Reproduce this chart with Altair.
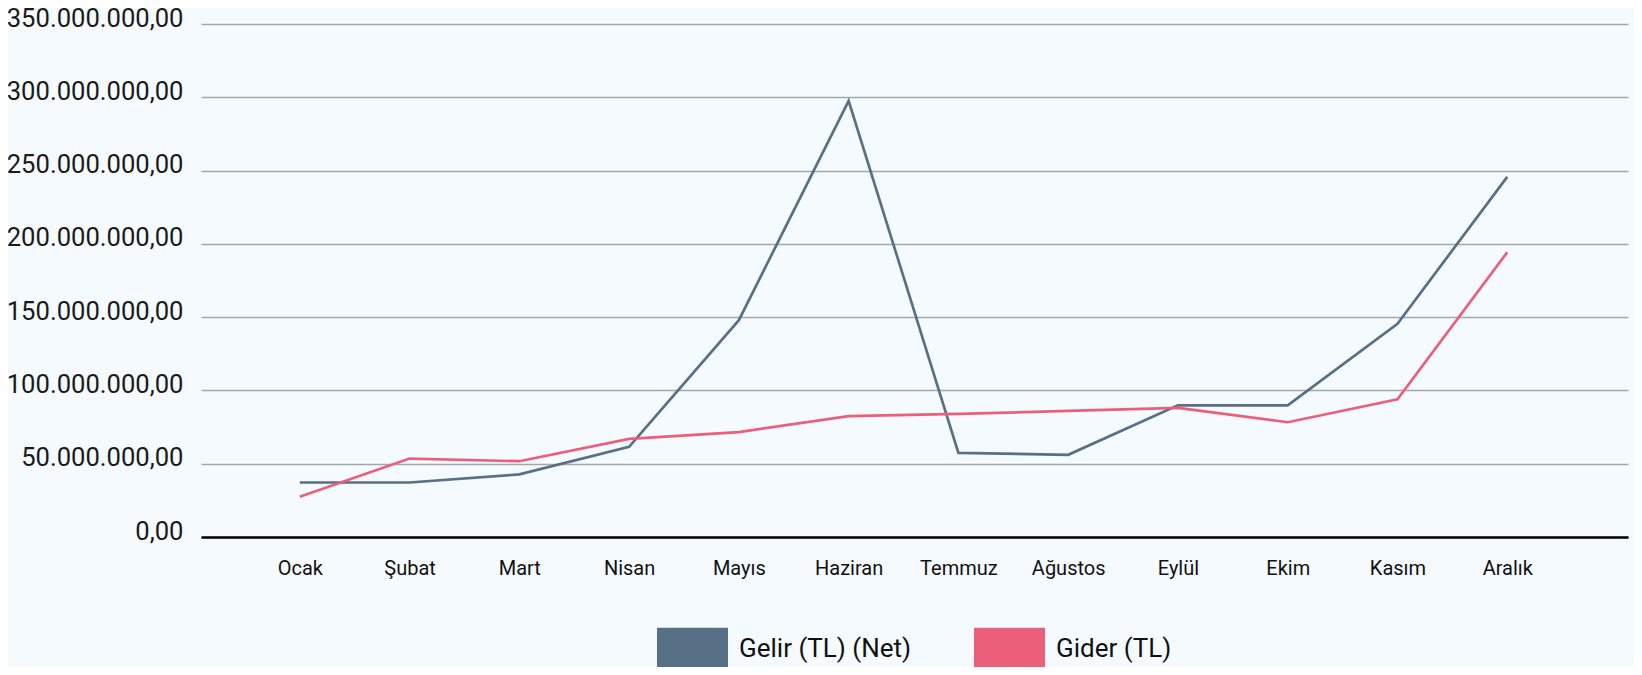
import altair as alt
import pandas as pd

months = ["Ocak", "Şubat", "Mart", "Nisan", "Mayıs", "Haziran", "Temmuz",
          "Ağustos", "Eylül", "Ekim", "Kasım", "Aralık"]
gelir_m = [37.2, 37.2, 42.7, 61.5, 147.9, 297.6, 57.4, 56.1, 89.8, 89.8, 145.5, 245.7]
gider_m = [27.5, 53.5, 51.7, 66.9, 71.6, 82.5, 84.0, 86.0, 88.1, 78.3, 93.9, 194.3]
series_names = ["Gelir (TL) (Net)", "Gider (TL)"]
series_colors = ["#587086", "#EC5F7A"]
y_ticks = [0, 50e6, 100e6, 150e6, 200e6, 250e6, 300e6, 350e6]

rows = []
for i, m in enumerate(months):
    rows.append({"Ay": m, "Seri": series_names[0], "Deger": gelir_m[i] * 1e6})
    rows.append({"Ay": m, "Seri": series_names[1], "Deger": gider_m[i] * 1e6})
df = pd.DataFrame(rows)

# legend swatch: stacked horizontal strokes forming a filled rectangle
swatch_path = "".join(f"M-1,{-0.507 + k * 0.1449:.4f}H1" for k in range(8))

chart = alt.Chart(df).mark_line(strokeWidth=2.7).encode(
    x=alt.X("Ay:N", sort=months,
            scale=alt.Scale(type="point", padding=1.034, align=0.45),
            axis=alt.Axis(title=None, ticks=False, tickSize=0, labelAngle=0,
                          domainColor="#000000", domainWidth=2.6,
                          labelFont="Roboto", labelFontSize=20, labelColor="#111111",
                          labelPadding=21, grid=False)),
    y=alt.Y("Deger:Q",
            scale=alt.Scale(domain=[0, 350e6], nice=False, zero=True),
            axis=alt.Axis(title=None, values=y_ticks, format=",.2f", ticks=False,
                          domain=False, labelFont="Roboto", labelFontSize=25.6,
                          labelColor="#1a1a1a", labelPadding=18,
                          labelBaseline="alphabetic", labelOffset=2,
                          gridColor="#A3A7AB", gridWidth=1.4)),
    color=alt.Color("Seri:N",
                    scale=alt.Scale(domain=series_names, range=series_colors),
                    legend=alt.Legend(title=None, orient="none", legendX=453, legendY=586,
                                      direction="horizontal",
                                      symbolType=swatch_path,
                                      symbolSize=5041, symbolStrokeWidth=6,
                                      labelFont="Roboto", labelFontSize=26,
                                      labelLimit=400,
                                      labelColor="#111111", labelOffset=8,
                                      columnPadding=50, padding=0)),
).properties(
    width=1427, height=513,
    autosize=alt.AutoSizeParams(type="none"),
    padding={"left": 193, "top": 16, "right": 6, "bottom": 130},
).configure(
    background="#F5FAFE",
    locale={"number": {"decimal": ",", "thousands": ".", "grouping": [3],
                       "currency": ["", " TL"]}},
).configure_view(stroke=None)

chart.save("out.html", embed_options={"renderer": "svg", "actions": False})
